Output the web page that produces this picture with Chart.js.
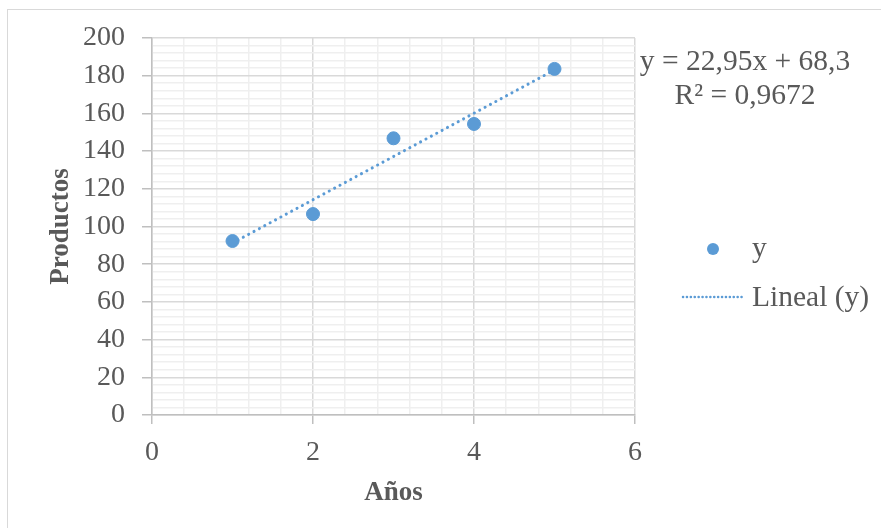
<!DOCTYPE html>
<html>
<head>
<meta charset="utf-8">
<script src="https://cdn.jsdelivr.net/npm/chart.js@4"></script>
<style>
  html, body { margin: 0; padding: 0; background: #fff; }
  #wrap { width: 881px; height: 528px; }
</style>
</head>
<body>
<div id="wrap"><canvas id="myChart" width="881" height="528"></canvas></div>
<script>
  // years and products
  const years = [1, 2, 3, 4, 5];
  const products = [92.3, 106.6, 146.8, 154.4, 183.6];
  // linear trend (Excel)
  const slope = 22.95;
  const intercept = 68.3;
  const r2 = '0,9672';
  const xTicks = [0, 2, 4, 6];
  const yTicks = [0, 20, 40, 60, 80, 100, 120, 140, 160, 180, 200];

  const blue = '#5b9bd5';
  const textColor = '#595959';
  const serif = "'Liberation Serif', 'Times New Roman', serif";

  const isMajor = (v, step) => Math.abs(v / step - Math.round(v / step)) < 1e-6;

  const trend = [years[0], years[years.length - 1]].map(x => ({ x: x, y: slope * x + intercept }));

  // equation box, legend and outer frame
  const extras = {
    id: 'extras',
    afterDraw(chart) {
      const c = chart.ctx;
      c.save();
      c.strokeStyle = '#d9d9d9';
      c.lineWidth = 1;
      c.strokeRect(7.5, 9.5, 900, 600);

      c.fillStyle = textColor;
      c.font = '29.5px ' + serif;
      c.textAlign = 'center';
      c.textBaseline = 'middle';
      c.fillText('y = ' + String(slope).replace('.', ',') + 'x + ' + String(intercept).replace('.', ','), 745, 62);
      c.fillText('R² = ' + r2, 745, 96);

      c.textAlign = 'left';
      c.fillText('y', 752, 249);
      c.fillText('Lineal (y)', 752, 298);

      c.fillStyle = blue;
      c.beginPath();
      c.arc(713, 249, 6, 0, Math.PI * 2);
      c.fill();

      c.strokeStyle = blue;
      c.lineWidth = 2.5;
      c.lineCap = 'round';
      c.setLineDash([0.1, 3.8]);
      c.beginPath();
      c.moveTo(683, 297);
      c.lineTo(745, 297);
      c.stroke();
      c.restore();
    }
  };

  new Chart(document.getElementById('myChart'), {
    type: 'scatter',
    data: {
      datasets: [{
        label: 'y',
        data: years.map((x, i) => ({ x: x, y: products[i] })),
        backgroundColor: blue,
        borderColor: blue,
        pointRadius: 6.5,
        order: 1
      }, {
        label: 'Lineal (y)',
        type: 'line',
        data: trend,
        borderColor: blue,
        borderWidth: 3,
        borderCapStyle: 'round',
        borderDash: [0.1, 6],
        pointRadius: 0,
        fill: false,
        order: 2
      }]
    },
    options: {
      responsive: false,
      animation: false,
      layout: { padding: { left: 0, top: 38, right: 246, bottom: 0 } },
      plugins: { legend: { display: false }, tooltip: { enabled: false } },
      scales: {
        x: {
          type: 'linear',
          min: 0,
          max: 6,
          afterFit(scale) { scale.height = 528 - 415; },
          ticks: {
            stepSize: 0.4,
            autoSkip: false,
            maxRotation: 0,
            padding: 12,
            color: textColor,
            font: { family: serif, size: 28 },
            callback: v => (isMajor(v, 2) ? Math.round(v) : '')
          },
          grid: {
            color: ctx => (isMajor(ctx.tick.value, 2) ? '#d9d9d9' : '#efefef'),
            tickColor: ctx => (isMajor(ctx.tick.value, 2) ? '#bfbfbf' : 'rgba(0,0,0,0)'),
            tickLength: 9,
            lineWidth: 1.5
          },
          border: { color: '#bfbfbf', width: 1.5 },
          title: {
            display: true,
            text: 'Años',
            color: textColor,
            font: { family: serif, size: 27, weight: 'bold' },
            padding: { top: 0, bottom: 19 }
          }
        },
        y: {
          min: 0,
          max: 200,
          afterFit(scale) { scale.width = 152; },
          ticks: {
            stepSize: 4,
            autoSkip: false,
            padding: 17,
            color: textColor,
            font: { family: serif, size: 28 },
            callback: v => (yTicks.includes(v) ? v : '')
          },
          grid: {
            color: ctx => (isMajor(ctx.tick.value, 20) ? '#d9d9d9' : '#efefef'),
            tickColor: ctx => (isMajor(ctx.tick.value, 20) ? '#bfbfbf' : 'rgba(0,0,0,0)'),
            tickLength: 10,
            lineWidth: 1.5
          },
          border: { color: '#bfbfbf', width: 1.5 },
          title: {
            display: true,
            text: 'Productos',
            color: textColor,
            font: { family: serif, size: 27, weight: 'bold' },
            padding: { top: 45, bottom: 0 }
          }
        }
      }
    },
    plugins: [extras]
  });
</script>
</body>
</html>
